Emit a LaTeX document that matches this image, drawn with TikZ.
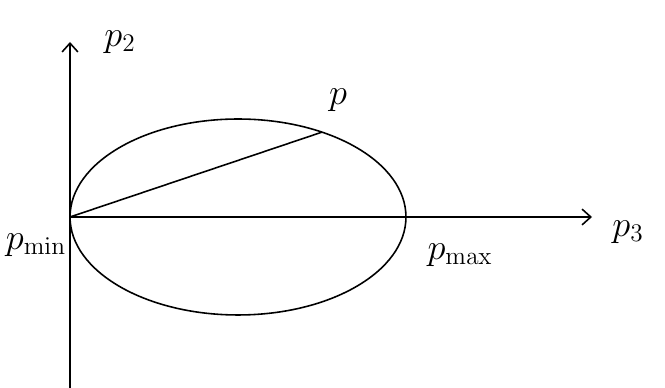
\documentclass[tikz,border=0pt]{standalone}
\usepackage{tikz}
\usetikzlibrary{arrows.meta, positioning}

\begin{document}
\begin{tikzpicture}[
  x=0.02cm, y=0.02cm,
  axis/.style  = {-{Straight Barb[length=5pt, width=9pt]}, line width=0.9pt},
  curve/.style = {line width=0.9pt},
  lbl/.style   = {font=\huge, inner sep=1pt},
]
\useasboundingbox (0,0) rectangle (665,388);

% Points
\coordinate (pmin) at (70,171);
\coordinate (ellc) at (238,171);
\coordinate (top)  at (70,346);
\coordinate (bot)  at (70,0);
\coordinate (right) at (592,171);
\coordinate (pmax) at (406,171);
\coordinate (p) at ([shift={(ellc)}]60:3.36cm and 1.96cm);

% Axes
\draw[axis] (bot) -- (top);
\draw[axis] (pmin) -- (right);

% Ellipse and chord
\draw[curve] (ellc) ellipse [x radius=3.36cm, y radius=1.96cm];
\draw[curve] (pmin) -- (p);

% Labels
\node[lbl] (lp2)   at (120,346) {$p_2$};
\node[lbl] (lp3)   at (628,156) {$p_3$};
\node[lbl] (lp)    at (338,288) {$p$};
\node[lbl] (lpmin) at (36,143)  {$p_{\min}$};
\node[lbl] (lpmax) at (460,133) {$p_{\max}$};

\end{tikzpicture}
\end{document}
